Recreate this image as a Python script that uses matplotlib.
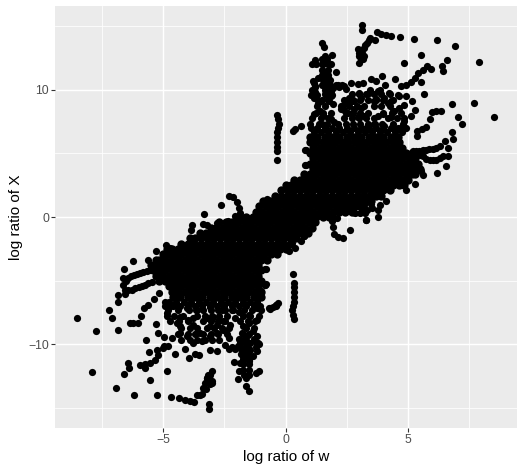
import matplotlib
matplotlib.use("Agg")
import matplotlib.pyplot as plt

plt.rcParams['font.family'] = ['Liberation Sans', 'DejaVu Sans']

x_ticks = [-5, 0, 5]
y_ticks = [-10, 0, 10]
x_minor = [-7.5, -2.5, 2.5, 7.5]
y_minor = [-15, -5, 5, 15]
x_label = "log ratio of w"
y_label = "log ratio of X"

# Sparse upper-right points
upper_w = [3.13,3.13,3.74,3.9,4.11,4.31,4.67,5.24,6.18,6.9,7.89,5.52,4.82,6.59,6.39,6.41,5.78,5.94,5.6,5.4,5.27,5.13,4.93,4.72,5.54,5.67,3.93,3.7,3.51,4.48,4.05,
 3.66,3.43,3.32,3.22,3.13,2.97,3.02,2.99,3.15,1.48,1.59,1.62,1.89,1.86,1.22,1.07,1.25,1.55,1.55,1.6,1.73,1.8,1.87,1.93,2.07,2.14,2.4,2.68,2.95,3.15,1.12,1.2,1.05,1.25,1.45,1.73,
 2.27,2.61,3.02,3.43,3.84,4.24,4.58,4.93,5.17,4.82,4.63,4.38,5.27,5.13,6.8,7.71,8.52,7.06,7.2,6.33,6.15,5.99,5.88,5.74,5.56,5.37,5.36,6.8,6.82,6.52,6.63,6.63,6.56,6.19,
 6.29,6.15,6.01,5.87,5.74,5.6,5.47,5.34,5.2,6.42,6.29,6.15,6.02,5.88,5.75,5.61,5.5,5.54,5.6,5.27,4.9,4.72,4.11,3.77,3.84,3.32,3.13,2.75,3.02,3.29,3.5,3.1,3.29,1.89,2.1,
 1.11,1.18,1.32,1.79,1.86,2.47,2.2,1.93,1.73,1.66,1.32,1.18,4.44,4.31,4.85,4.71,4.44,3.97,3.76,3.63,4.65,4.31,4.04,3.76,3.42,3.08,2.81,2.54,2.27,3.08,2.81,3.22,2.95,2.54,4.04,3.63,3.3,
 4.2,3.7,2.7,2.4,2.0,1.55,1.85,1.4,1.15,1.49,
 -0.33,-0.3,-0.28,-0.3,-0.33,-0.33,-0.33,-0.33,-0.33,-0.33,0.37,0.64,0.3,0.8,0.78,0.84,0.82,
 2.33,2.16,2.0,1.93,1.88,2.63,3.3,3.05,3.25,2.85,3.79,3.55,3.2,3.5,0.75,0.62,
 1.5,1.7,1.5,1.75,1.5,1.75,1.5,1.75,1.55,1.8,1.5,1.8,1.6,1.85,1.65,1.9,1.2,1.2,1.1,1.3,
 3.1,3.2,3.1,3.25,3.4,3.0,2.3,2.05]
upper_X = [15.09,14.72,14.57,14.41,14.3,14.23,14.15,14.04,13.96,13.46,12.2,12.78,12.15,12.39,11.86,11.52,11.86,11.68,11.6,11.34,10.94,10.63,10.42,10.29,10.66,9.71,11.1,10.73,10.84,10.84,10.42,
 13.96,14.09,13.7,13.3,12.91,13.25,12.65,12.13,12.4,13.7,13.36,12.65,12.73,12.05,12.39,12.07,12.07,12.0,11.5,11.0,10.5,10.0,9.5,8.9,11.42,10.42,10.29,10.55,10.47,10.55,10.68,10.3,9.63,9.37,9.1,9.6,
 8.71,9.37,9.76,10.03,10.03,9.76,9.63,9.5,9.16,8.85,8.58,8.32,8.45,7.93,8.9,8.98,7.9,7.9,7.3,8.32,8.32,8.27,7.74,7.06,6.95,6.8,6.4,6.67,6.11,6.01,5.43,4.78,4.04,3.46,
 5.56,5.46,5.38,5.34,5.3,5.26,5.22,5.2,5.17,4.78,4.62,4.51,4.5,4.51,4.55,4.78,4.9,3.6,3.33,2.62,2.1,2.55,1.23,0.58,0.97,0.52,0.52,0.5,0.84,1.63,1.76,1.5,-0.26,-0.34,-0.05,
 9.92,9.4,9.0,9.14,9.79,10.05,10.24,10.18,10.97,10.45,10.97,10.58,8.35,7.83,7.57,7.04,6.91,8.09,7.96,9.14,9.53,9.14,9.4,9.92,9.79,9.4,9.14,8.87,8.48,8.61,8.48,7.96,7.83,8.22,7.17,7.3,7.0,
 9.0,9.3,9.1,8.4,7.5,8.0,7.7,8.35,8.1,7.3,
 8.05,7.7,7.3,7.0,6.7,6.3,5.9,5.54,5.2,4.49,6.9,7.14,6.8,5.3,4.07,5.28,4.1,
 -1.63,-1.6,-1.3,-0.76,-0.24,-1.0,-0.24,0.3,0.3,0.35,0.0,0.7,0.95,1.05,-1.5,-1.9,
 12.4,12.4,12.0,12.0,11.6,11.6,11.2,11.2,10.8,10.8,10.4,10.4,10.0,10.0,9.6,9.6,10.2,9.8,10.0,9.6,
 12.4,12.7,13.1,13.5,13.9,12.9,10.4,10.4]

# Sparse lower-left points
lower_w = [-8.53,-7.72,-6.82,-7.08,-7.2,-6.82,-6.83,-6.55,-6.64,-6.58,-6.21,-5.6,-5.29,-4.88,-4.72,
 -6.64,-6.52,-6.41,-6.3,-6.2,-6.07,-5.94,-5.8,-5.67,-5.53,-5.39,-6.55,-6.42,-6.28,-6.14,-6.0,-5.86,-5.73,-5.6,-5.46,
 -6.35,-6.21,-6.02,-5.9,-5.76,-5.6,-5.38,-5.16,-4.92,-5.29,-5.19,-4.95,-5.71,-5.57,-5.26,-4.96,-4.5,-4.1,-3.95,-3.7,-3.52,-3.08,-2.81,
 -6.41,-6.4,-6.59,-7.91,-6.9,-6.18,-5.26,-4.69,-4.33,-4.1,-3.9,-3.74,-5.53,-4.85,
 -5.94,-5.73,-5.75,-5.53,-5.33,-5.19,-4.99,-4.78,
 -3.13,-3.13,-3.63,-3.5,-3.36,-3.29,-3.22,-3.02,-2.99,-3.15,
 -1.51,-1.62,-1.92,-1.62,-1.89,-1.22,-1.07,-2.09,-1.86,-1.49,-2.47,-2.2,-1.93,-1.73,-1.66,-1.45,-1.32,-1.18,-1.11,-1.18,-1.32,-1.79,-1.86,-1.55,-1.73,-1.45,-1.55,-1.73,-2.07,
 -1.49,-1.49,-1.18,-1.18,-1.11,-0.98,-0.84,-0.82,-0.67,-0.39,-0.5,
 -4.44,-4.31,-4.85,-4.71,-4.44,-3.97,-3.76,-3.76,-3.63,-4.65,-4.31,-4.04,-3.76,-3.42,-3.08,-2.81,-2.54,-2.27,-3.08,-2.81,-3.22,-2.95,-2.54,-3.5,-4.04,-3.63,-3.1,-2.6,-2.2,-1.9,-4.3,-2.3,
 0.33,0.3,0.28,0.3,0.33,0.33,0.33,0.33,0.33,0.32,-0.37,-0.64,-0.3,-0.8,-0.84,-0.81,-0.38,-0.63,
 -0.74,-2.65,-3.33,-3.35,-3.2,-3.8,-3.85,-2.78,-3.0,-2.29,-2.13,-2.0,-1.9,-1.86,-2.06,-2.33,
 0.75,0.25,0.39,0.15,
 -1.5,-1.7,-1.5,-1.75,-1.5,-1.75,-1.5,-1.75,-1.55,-1.8,-1.5,-1.8,-1.6,-1.85,-1.65,-1.9,-1.2,-1.2,-1.1,-1.3,
 -3.1,-3.2,-3.1,-3.25,-3.4,-3.0,-2.3,-2.05]
lower_X = [-7.91,-9.0,-8.9,-7.91,-7.3,-6.65,-6.13,-6.05,-4.82,-4.08,-3.48,-3.38,-2.64,-2.2,-2.45,
 -5.34,-5.05,-4.82,-4.68,-4.55,-4.45,-4.37,-4.3,-4.24,-4.2,-4.16,-5.73,-5.73,-5.73,-5.62,-5.52,-5.42,-5.34,-5.2,-5.08,
 -8.35,-8.35,-8.32,-7.75,-7.12,-6.91,-6.44,-5.94,-6.7,-8.43,-9.14,-9.48,-9.71,-10.65,-10.5,-10.13,-10.81,-10.39,-11.1,-10.76,-10.86,-10.45,-10.52,
 -11.49,-11.86,-12.38,-12.22,-13.46,-13.98,-14.03,-14.16,-14.24,-14.37,-14.45,-14.53,-12.8,-12.15,
 -11.68,-11.55,-11.9,-11.49,-11.23,-10.89,-10.31,-10.13,
 -14.71,-15.08,-13.98,-13.98,-13.46,-13.06,-12.67,-12.15,-13.06,-12.4,
 -13.72,-13.32,-12.72,-12.67,-12.09,-12.28,-12.09,-11.44,-11.49,-11.36,-10.05,-10.24,-10.18,-10.97,-10.45,-10.45,-10.97,-10.58,-9.92,-9.4,-9.0,-9.14,-9.79,-9.3,-10.4,-9.9,-10.9,-8.6,-7.96,
 -8.35,-7.7,-8.09,-7.17,-6.4,-5.86,-5.34,-4.11,-7.17,-6.99,-7.1,
 -8.35,-7.83,-7.57,-7.04,-6.91,-8.09,-7.96,-8.5,-9.14,-9.53,-9.14,-9.4,-9.92,-9.79,-9.4,-9.14,-8.87,-8.48,-8.61,-8.48,-7.96,-7.83,-8.22,-9.14,-7.17,-7.3,-7.1,-7.3,-7.3,-7.5,-8.6,-9.5,
 -8.05,-7.7,-7.3,-7.0,-6.7,-6.3,-5.9,-5.54,-5.2,-4.48,-6.9,-7.14,-6.8,-5.3,-5.36,-4.1,-6.93,-7.2,
 1.42,0.94,0.2,-0.58,-0.6,-0.62,-1.0,-0.5,-0.9,1.65,1.6,1.2,0.68,0.28,0.07,-0.3,
 -1.5,-2.08,-2.47,-2.7,
 -12.4,-12.4,-12.0,-12.0,-11.6,-11.6,-11.2,-11.2,-10.8,-10.8,-10.4,-10.4,-10.0,-10.0,-9.6,-9.6,-10.2,-9.8,-10.0,-9.6,
 -12.4,-12.7,-13.1,-13.5,-13.9,-12.9,-10.4,-10.4]

# Outer cloud rows, patchy black regions above and below the solid mass
cloud_X = [9.7,9.2,8.7,8.2,7.75,7.35,7.0,6.65,-6.65,-7.0,-7.35,-7.75,-8.2,-8.7,-9.2,-9.7]
cloud_w = [
 [1.6,1.85,2.7,3.0,3.3,3.6,3.9,4.25],
 [1.5,1.75,2.4,2.75,3.05,3.35,3.7,4.0,4.4],
 [1.3,1.6,2.3,2.6,2.9,3.2,3.6,3.9,4.25],
 [1.25,1.55,1.85,2.45,2.75,3.05,3.35,4.0,4.35,4.7],
 [1.1,1.45,1.75,2.4,2.7,3.0,3.3,3.6,4.2,4.55,4.85],
 [1.0,1.35,1.7,2.15,2.45,2.75,3.05,3.35,3.65,3.95,4.4,4.8],
 [1.05,1.3,1.6,1.9,2.2,2.5,2.8,3.1,3.4,3.7,4.0,4.3,4.6,4.9],
 [1.15,1.45,1.75,2.05,2.35,2.65,2.95,3.25,3.55,3.85,4.15,4.45,4.75],
 [-4.75,-4.45,-4.15,-3.85,-3.55,-3.25,-2.95,-2.65,-2.35,-2.05,-1.75,-1.45,-1.15],
 [-4.9,-4.6,-4.3,-4.0,-3.7,-3.4,-3.1,-2.8,-2.5,-2.2,-1.9,-1.6,-1.3,-1.05],
 [-4.8,-4.4,-3.95,-3.65,-3.35,-3.05,-2.75,-2.45,-2.15,-1.7,-1.35,-1.0],
 [-4.85,-4.55,-4.2,-3.6,-3.3,-3.0,-2.7,-2.4,-1.75,-1.45,-1.1],
 [-4.7,-4.35,-4.0,-3.35,-3.05,-2.75,-2.45,-1.85,-1.55,-1.25],
 [-4.25,-3.9,-3.6,-3.2,-2.9,-2.6,-2.3,-1.6,-1.3],
 [-4.4,-4.0,-3.7,-3.35,-3.05,-2.75,-2.4,-1.75,-1.5],
 [-4.25,-3.9,-3.6,-3.3,-3.0,-2.7,-1.85,-1.6],
]

# Dense core: estimated rows of the solid black mass
core_X = [6.3,5.88,5.46,5.04,4.62,4.2,3.78,3.36,2.94,2.52,2.1,1.68,1.26,0.84,0.42,0.0,
          -0.42,-0.84,-1.26,-1.68,-2.1,-2.52,-2.94,-3.36,-3.78,-4.2,-4.62,-5.04,-5.46,-5.88,-6.3]
core_w = [
 [1.0,1.3,1.6,1.9,2.2,2.5,2.8,3.1,3.4,3.7,4.0,4.3,4.6],
 [1.0,1.26,1.52,1.78,2.04,2.3,2.56,2.82,3.08,3.34,3.6,3.86,4.12,4.38,4.64],
 [1.13,1.39,1.65,1.91,2.17,2.43,2.69,2.95,3.21,3.47,3.73,3.99,4.25,4.51,4.77],
 [1.0,1.26,1.52,1.78,2.04,2.3,2.56,2.82,3.08,3.34,3.6,3.86,4.12,4.38,4.64,4.9,5.16],
 [1.13,1.39,1.65,1.91,2.17,2.43,2.69,2.95,3.21,3.47,3.73,3.99,4.25,4.51,4.77,5.03,5.29],
 [1.0,1.26,1.52,1.78,2.04,2.3,2.56,2.82,3.08,3.34,3.6,3.86,4.12,4.38,4.64,4.9,5.16,5.42],
 [1.13,1.39,1.65,1.91,2.17,2.43,2.69,2.95,3.21,3.47,3.73,3.99,4.25,4.51,4.77,5.03,5.29,5.5],
 [0.74,1.0,1.26,1.52,1.78,2.04,2.3,2.56,2.82,3.08,3.34,3.6,3.86,4.12,4.38,4.64,4.9,5.16,5.3],
 [0.35,0.61,0.87,1.13,1.39,1.65,1.91,2.17,2.43,2.69,2.95,3.21,3.47,3.73,3.99,4.25,4.51,4.77,5.0],
 [0.0,0.22,0.48,0.74,1.0,1.26,1.52,1.78,2.04,2.3,2.56,2.82,3.08,3.34,3.6,3.86,4.12,4.38,4.64,4.85],
 [-0.17,0.09,0.35,0.61,0.87,1.13,1.39,1.65,1.91,2.17,2.43,2.69,2.95,3.21,3.47,3.73,3.99,4.25],
 [-0.43,-0.2,0.06,0.32,0.58,0.84,1.1,1.36,1.62,1.88,2.14,2.4,2.66,2.92,3.18,3.44,3.7,3.9],
 [-0.9,-0.65,-0.39,-0.13,0.13,0.39,0.65,0.91,1.17,1.43,1.69,1.95,2.21,2.47,2.73,2.99,3.25,3.5],
 [-1.07,-0.81,-0.55,-0.29,-0.03,0.23,0.49,0.75,1.01,1.27,1.53,1.79,2.05,2.31,2.57,2.83,3.05],
 [-1.2,-0.94,-0.68,-0.42,-0.16,0.1,0.36,0.62,0.88,1.14,1.4,1.66,1.92,2.18,2.44,2.7],
 [-1.85,-1.6,-1.34,-1.08,-0.82,-0.56,-0.3,-0.04,0.22,0.48,0.74,1.0,1.26,1.52,1.78,1.9],
 [-2.7,-2.44,-2.18,-1.92,-1.66,-1.4,-1.14,-0.88,-0.62,-0.36,-0.1,0.16,0.42,0.68,0.94,1.2],
 [-3.05,-2.83,-2.57,-2.31,-2.05,-1.79,-1.53,-1.27,-1.01,-0.75,-0.49,-0.23,0.03,0.29,0.55,0.81,1.07],
 [-3.5,-3.25,-2.99,-2.73,-2.47,-2.21,-1.95,-1.69,-1.43,-1.17,-0.91,-0.65,-0.39,-0.13,0.13,0.39,0.65,0.9],
 [-3.9,-3.7,-3.44,-3.18,-2.92,-2.66,-2.4,-2.14,-1.88,-1.62,-1.36,-1.1,-0.84,-0.58,-0.32,-0.06,0.2,0.43],
 [-4.25,-3.99,-3.73,-3.47,-3.21,-2.95,-2.69,-2.43,-2.17,-1.91,-1.65,-1.39,-1.13,-0.87,-0.61,-0.35,-0.09,0.17],
 [-4.85,-4.64,-4.38,-4.12,-3.86,-3.6,-3.34,-3.08,-2.82,-2.56,-2.3,-2.04,-1.78,-1.52,-1.26,-1.0,-0.74,-0.48,-0.22,0.0],
 [-5.0,-4.77,-4.51,-4.25,-3.99,-3.73,-3.47,-3.21,-2.95,-2.69,-2.43,-2.17,-1.91,-1.65,-1.39,-1.13,-0.87,-0.61,-0.35],
 [-5.3,-5.16,-4.9,-4.64,-4.38,-4.12,-3.86,-3.6,-3.34,-3.08,-2.82,-2.56,-2.3,-2.04,-1.78,-1.52,-1.26,-1.0,-0.74],
 [-5.5,-5.29,-5.03,-4.77,-4.51,-4.25,-3.99,-3.73,-3.47,-3.21,-2.95,-2.69,-2.43,-2.17,-1.91,-1.65,-1.39,-1.13],
 [-5.42,-5.16,-4.9,-4.64,-4.38,-4.12,-3.86,-3.6,-3.34,-3.08,-2.82,-2.56,-2.3,-2.04,-1.78,-1.52,-1.26,-1.0],
 [-5.29,-5.03,-4.77,-4.51,-4.25,-3.99,-3.73,-3.47,-3.21,-2.95,-2.69,-2.43,-2.17,-1.91,-1.65,-1.39,-1.13],
 [-5.16,-4.9,-4.64,-4.38,-4.12,-3.86,-3.6,-3.34,-3.08,-2.82,-2.56,-2.3,-2.04,-1.78,-1.52,-1.26,-1.0],
 [-4.77,-4.51,-4.25,-3.99,-3.73,-3.47,-3.21,-2.95,-2.69,-2.43,-2.17,-1.91,-1.65,-1.39,-1.13],
 [-4.64,-4.38,-4.12,-3.86,-3.6,-3.34,-3.08,-2.82,-2.56,-2.3,-2.04,-1.78,-1.52,-1.26,-1.0],
 [-4.6,-4.3,-4.0,-3.7,-3.4,-3.1,-2.8,-2.5,-2.2,-1.9,-1.6,-1.3,-1.0],
]

# Sparse points and cloud rows share one marker size
sparse_w = list(upper_w) + list(lower_w)
sparse_X = list(upper_X) + list(lower_X)
for level, row in zip(cloud_X, cloud_w):
    sparse_w.extend(row)
    sparse_X.extend([level] * len(row))

dense_w, dense_X = [], []
for level, row in zip(core_X, core_w):
    dense_w.extend(row)
    dense_X.extend([level] * len(row))

W, H = 523, 474
fig = plt.figure(figsize=(W / 100, H / 100), dpi=100, facecolor='white')
left, right, top, bottom = 55, 516.5, 6, 428
ax = fig.add_axes([left / W, 1 - bottom / H, (right - left) / W, (bottom - top) / H])
ax.set_facecolor('#EBEBEB')
ax.set_xlim(-9.41, 9.43)
ax.set_ylim(-16.6, 16.6)
for s in ax.spines.values():
    s.set_visible(False)
ax.set_axisbelow(True)
ax.set_xticks(x_ticks)
ax.set_yticks(y_ticks)
ax.set_xticklabels(['\u2212' + str(abs(v)) if v < 0 else str(v) for v in x_ticks])
ax.set_yticklabels(['\u2212' + str(abs(v)) if v < 0 else str(v) for v in y_ticks])
ax.set_xticks(x_minor, minor=True)
ax.set_yticks(y_minor, minor=True)
ax.grid(which='major', color='white', linewidth=1.05)
ax.grid(which='minor', color='white', linewidth=0.55)
ax.tick_params(which='major', length=2.6, width=0.8, color='#333333',
               labelcolor='#4D4D4D', labelsize=8.8, pad=1.8)
ax.tick_params(which='minor', length=0)
ax.scatter(sparse_w, sparse_X, s=27, c='black', linewidths=0, zorder=3)
ax.scatter(dense_w, dense_X, s=36, c='black', linewidths=0, zorder=3)
ax.set_xlabel(x_label, fontsize=11, color='black', labelpad=3)
ax.set_ylabel(y_label, fontsize=11, color='black', labelpad=4)
fig.savefig('out.png', dpi=100)
